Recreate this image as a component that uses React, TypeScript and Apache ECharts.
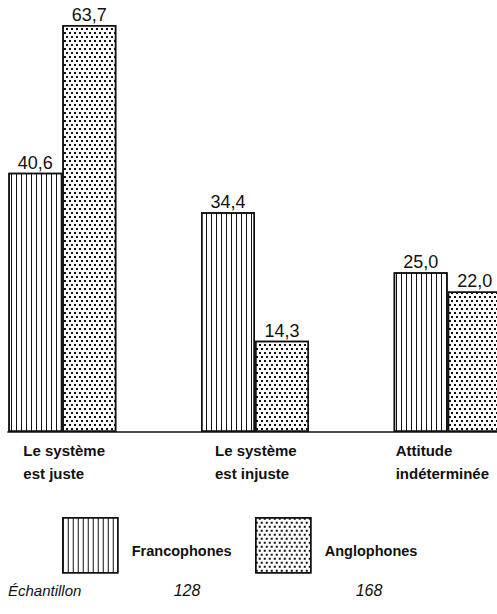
import React, { useEffect, useRef } from "react";
import * as echarts from "echarts";

const categories = ["Le système\nest juste", "Le système\nest injuste", "Attitude\nindéterminée"];
const seriesNames = ["Francophones", "Anglophones"];
const francophones = [40.6, 34.4, 25.0];
const anglophones = [63.7, 14.3, 22.0];
const sampleLabel = "Échantillon";
const sampleSizes = [128, 168];

const fmt = (v: number) => v.toFixed(1).replace(".", ",");
const FONT = '"Liberation Sans", Arial, Helvetica, sans-serif';
const INK = "#111";
// the chart canvas is wider than the page and shifted left, so the last bar is cut off as in the source
const OX = 34;
const CW = 578;
const CH = 614;

const stripeDecal = {
  symbol: "rect",
  symbolSize: 1,
  dashArrayX: [1, 4],
  dashArrayY: [5, 0],
  color: INK,
  rotation: 0,
};
const dotDecal = {
  symbol: "rect",
  symbolSize: 1,
  dashArrayX: [[2, 3], [0, 3, 2, 0]],
  dashArrayY: [2, 2],
  color: INK,
  rotation: 0,
};

export default function App() {
  const ref = useRef<HTMLDivElement>(null);
  useEffect(() => {
    if (!ref.current) return;
    const chart = echarts.init(ref.current, undefined, { renderer: "svg" });
    const barStyle = (decal: any) => ({
      color: "#fff",
      borderColor: INK,
      borderWidth: 1.5,
      decal,
    });
    const labelOpt = {
      show: true,
      position: "top",
      distance: 1,
      fontSize: 18,
      fontFamily: FONT,
      color: INK,
      formatter: (p: any) => fmt(p.value),
    };
    const legendBase = {
      top: 517,
      padding: 0,
      itemWidth: 55,
      itemHeight: 55,
      icon: "rect",
      selectedMode: false,
      itemStyle: { borderWidth: 1.5, borderColor: INK },
      formatter: (name: string) => `{t|${name}}`,
      textStyle: {
        color: INK,
        rich: {
          t: {
            fontSize: 14.5,
            fontWeight: "bold",
            fontFamily: FONT,
            color: INK,
            padding: [12, 0, 0, 9],
          },
        },
      },
    };
    chart.setOption({
      animation: false,
      grid: { left: 0, right: 0, top: 4, bottom: 182 },
      xAxis: {
        type: "category",
        data: categories,
        axisLine: { show: false },
        axisTick: { show: false },
        axisLabel: { show: false },
      },
      yAxis: { type: "value", min: 0, max: 67, show: false },
      legend: [
        { ...legendBase, left: 62 + OX, data: [seriesNames[0]] },
        { ...legendBase, left: 255 + OX, data: [seriesNames[1]] },
      ],
      series: [
        {
          name: seriesNames[0],
          type: "bar",
          data: francophones,
          barWidth: 54,
          barGap: "0%",
          itemStyle: barStyle(stripeDecal),
          label: labelOpt,
        },
        {
          name: seriesNames[1],
          type: "bar",
          data: anglophones,
          barWidth: 54,
          barGap: "0%",
          itemStyle: barStyle(dotDecal),
          label: labelOpt,
        },
      ],
    });

    const centers = categories.map((c) => chart.convertToPixel({ gridIndex: 0 }, [c, 0]) as number[]);
    const y0 = centers[0][1];
    const labelOffsets = [-39, -40, -52];
    const graphics: any[] = [
      {
        type: "line",
        shape: { x1: centers[0][0] - 55, y1: y0, x2: CW, y2: y0 },
        style: { stroke: INK, lineWidth: 1.5 },
        z: 10,
      },
    ];
    categories.forEach((c, i) => {
      graphics.push({
        type: "text",
        x: centers[i][0] + labelOffsets[i],
        y: y0 + 7,
        style: {
          text: c,
          fontSize: 15,
          fontWeight: "bold",
          fontFamily: FONT,
          fill: INK,
          lineHeight: 23,
          align: "left",
          verticalAlign: "top",
        },
      });
    });
    graphics.push({
      type: "text",
      x: 8 + OX,
      y: 590,
      style: {
        text: sampleLabel,
        fontSize: 15,
        fontStyle: "italic",
        fontFamily: FONT,
        fill: INK,
        align: "left",
        verticalAlign: "middle",
      },
    });
    const sampleX = [187, 369];
    sampleSizes.forEach((n, i) => {
      graphics.push({
        type: "text",
        x: sampleX[i] + OX,
        y: 590,
        style: {
          text: String(n),
          fontSize: 16,
          fontStyle: "italic",
          fontFamily: FONT,
          fill: INK,
          align: "center",
          verticalAlign: "middle",
        },
      });
    });
    chart.setOption({ graphic: graphics });
    return () => chart.dispose();
  }, []);
  return (
    <div style={{ position: "absolute", left: 0, top: 0, width: 497, height: CH, overflow: "hidden", background: "#fff" }}>
      <div ref={ref} style={{ position: "absolute", left: -OX, top: 0, width: CW, height: CH }} />
    </div>
  );
}
